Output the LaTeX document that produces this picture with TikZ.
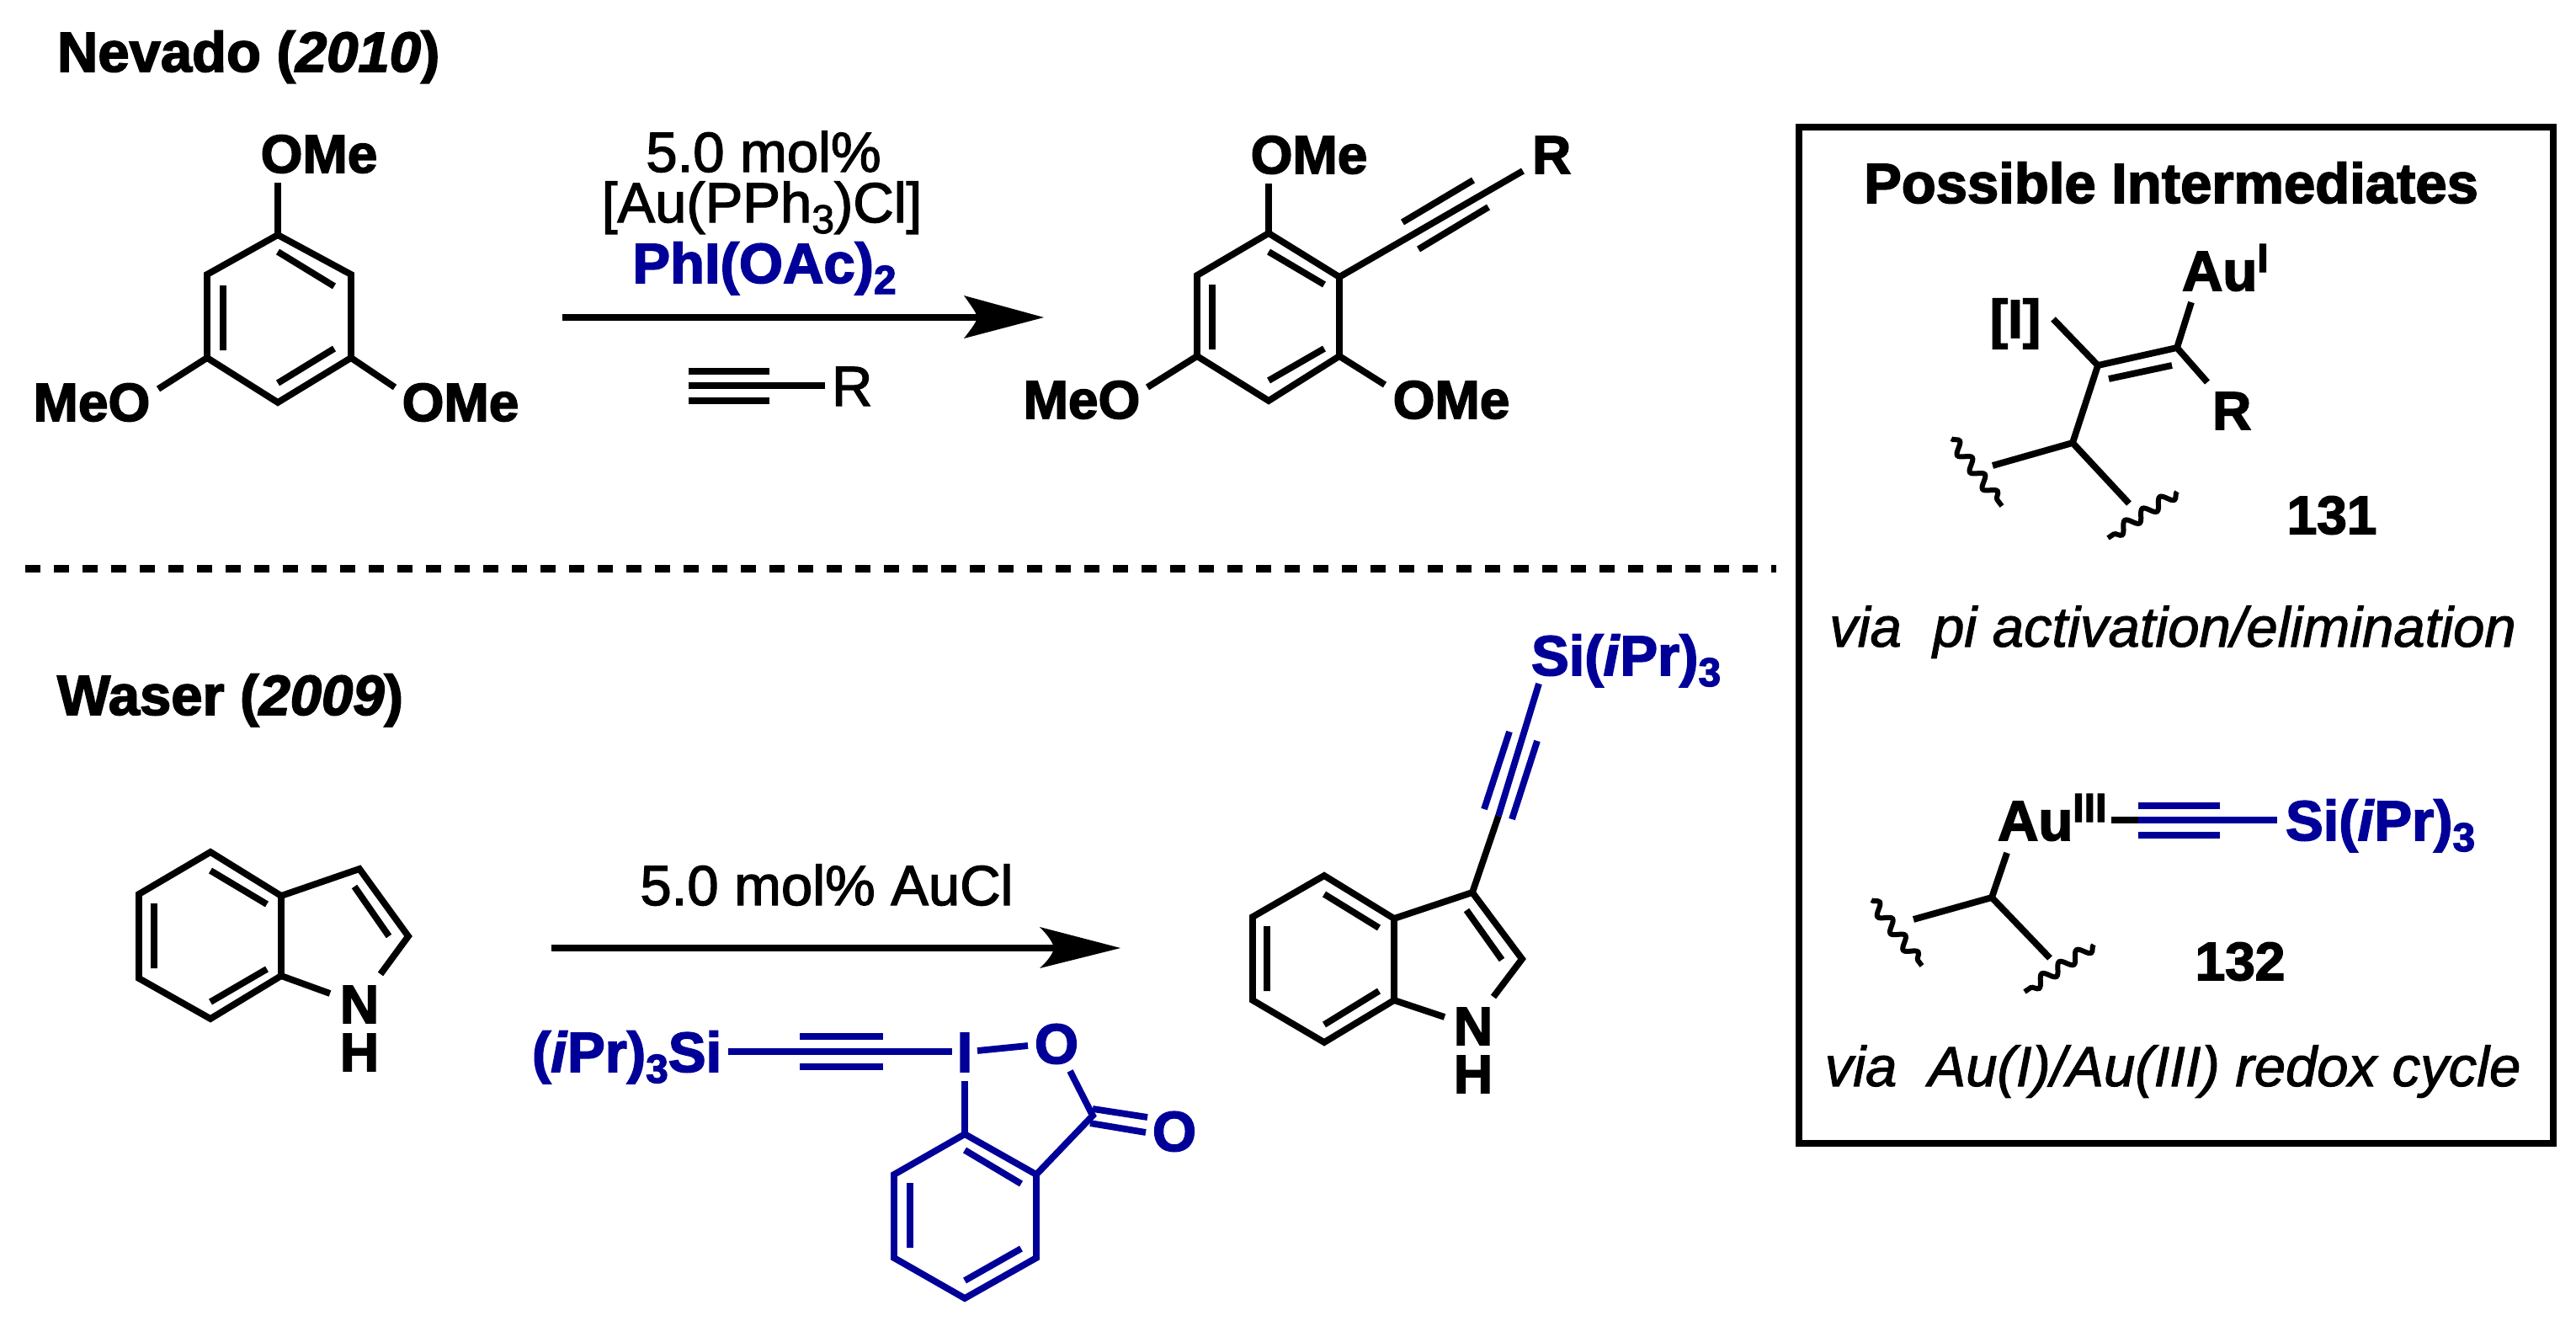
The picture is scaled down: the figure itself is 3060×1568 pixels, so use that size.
\documentclass[tikz,border=0pt]{standalone}
\usepackage{fontspec}
\setmainfont{Liberation Sans}[UprightFeatures={FakeBold=2},ItalicFeatures={FakeBold=1.5},BoldFeatures={FakeBold=2.5},BoldItalicFeatures={FakeBold=2.5}]
\usetikzlibrary{decorations.pathmorphing}
\definecolor{rblue}{HTML}{000099}
\newcommand{\sbs}[1]{\raisebox{-6.5pt}{\fontsize{24}{24}\selectfont #1}}
\newcommand{\sps}[1]{\raisebox{11pt}{\fontsize{24}{24}\selectfont #1}}
\tikzset{
  x=0.5pt,y=-0.5pt,
  bond/.style={line width=3.9pt,line join=miter,black},
  bbond/.style={line width=3.9pt,line join=miter,rblue},
  tbond/.style={line width=4pt,black},
  lbl/.style={inner sep=0pt,outer sep=0pt,anchor=base,font=\fontsize{32}{32}\selectfont\bfseries},
  bl/.style={lbl,text=rblue},
  titletxt/.style={lbl,font=\fontsize{33.5}{33.5}\selectfont\bfseries},
  reg/.style={lbl,font=\fontsize{33.5}{33.5}\selectfont},
  captxt/.style={lbl,font=\fontsize{33.5}{33.5}\selectfont\itshape},
  stacklbl/.style={lbl,align=center,font=\fontsize{32}{28.5}\selectfont\bfseries},
  wavy/.style={line width=3pt,black,decorate,decoration={snake,segment length=12.5pt,amplitude=3.2pt}},
  headfill/.style={fill=black,draw=none},
}
\begin{document}
\begin{tikzpicture}
\useasboundingbox (0,0) rectangle (3060,1568);
\fill[white] (0,0) rectangle (3060,1568);

% ---------- headings
\node[titletxt,anchor=base west] (tnev) at (68,85) {Nevado (\textit{2010})};
\node[titletxt,anchor=base west] (twas) at (68,849) {Waser (\textit{2009})};

% ---------- dashed separator
\coordinate (d1) at (30,675.5);
\coordinate (d2) at (2110,675.5);
\draw[line width=4.5pt,dash pattern=on 9pt off 8pt] (d1) -- (d2);

% ---------- trimethoxybenzene
\coordinate (a1) at (330,279);
\coordinate (a2) at (417,326);
\coordinate (a3) at (417,425);
\coordinate (a4) at (330,478);
\coordinate (a5) at (246,425);
\coordinate (a6) at (246,326);
\draw[bond] (a1)--(a2)--(a3)--(a4)--(a5)--(a6)--cycle;
\draw[bond] (330,299)--(397,340) (265,339)--(265,416) (330,455)--(397,414);
\node[lbl] (aO1) at (379,205) {OMe};
\node[lbl] (aO2) at (109,500) {MeO};
\node[lbl] (aO3) at (547,500) {OMe};
\coordinate (aO1b) at (330,217);
\coordinate (aO2b) at (188,462);
\coordinate (aO3b) at (469,460);
\draw[bond] (a1)--(aO1b) (a5)--(aO2b) (a3)--(aO3b);

% ---------- arrow 1
\coordinate (ar1s) at (668,377);
\coordinate (ar1n) at (1165,377);
\coordinate (ar1t) at (1240,377);
\draw[tbond] (ar1s)--(ar1n);
\fill[headfill] (ar1t) -- (1145,351) .. controls (1155,365) and (1160,372) .. (1161,377) .. controls (1160,382) and (1155,389) .. (1145,402) -- cycle;
\node[reg] (r1) at (907,204) {5.0 mol\%};
\node[reg] (r2) at (905,264) {[Au(PPh\sbs{3})Cl]};
\node[titletxt,text=rblue] (r3) at (908,336) {PhI(OAc)\sbs{\textbf{2}}};
\coordinate (t1a) at (818,458);
\coordinate (t1b) at (980,458);
\draw[tbond] (t1a)--(t1b) (818,441)--(914,441) (818,476)--(914,476);
\node[reg,anchor=base west] (r4) at (988,482) {R};

% ---------- product 1
\coordinate (p1) at (1507,277);
\coordinate (p2) at (1591,329);
\coordinate (p3) at (1591,423);
\coordinate (p4) at (1507,476);
\coordinate (p5) at (1422,423);
\coordinate (p6) at (1422,327);
\draw[bond] (p1)--(p2)--(p3)--(p4)--(p5)--(p6)--cycle;
\draw[bond] (1507,299)--(1573,338) (1440,338)--(1440,415) (1507,452)--(1573,414);
\node[lbl] (pO1) at (1555,206) {OMe};
\node[lbl] (pO2) at (1285,497) {MeO};
\node[lbl] (pO3) at (1724,497) {OMe};
\node[lbl,anchor=base west] (pR) at (1820,206) {R};
\coordinate (pO1b) at (1507,218);
\coordinate (pO2b) at (1363,460);
\coordinate (pO3b) at (1645,457);
\coordinate (pRb) at (1809,203);
\draw[bond] (p1)--(pO1b) (p5)--(pO2b) (p3)--(pO3b) (p2)--(pRb);
\draw[bond] (1750,214)--(1666,264) (1768,246)--(1685,296);

% ---------- box
\coordinate (b1) at (2137,151);
\coordinate (b2) at (3033,1358);
\draw[line width=4pt] (b1) rectangle (b2);
\node[titletxt] (bt) at (2579,241) {Possible Intermediates};

% ---------- intermediate 131
\coordinate (c1) at (2492,434);
\coordinate (c2) at (2586,413);
\coordinate (c3) at (2462,526);
\coordinate (cI) at (2439,379);
\coordinate (cAu) at (2603,359);
\coordinate (cR) at (2622,454);
\coordinate (cw1) at (2367,553);
\coordinate (cw2) at (2529,598);
\draw[bond] (cI)--(c1)--(c2)--(cAu) (c2)--(cR) (c1)--(c3) (c3)--(cw1) (c3)--(cw2);
\draw[bond] (2505,450)--(2580,434);
\node[titletxt,anchor=base west] (cAuL) at (2592,345) {Au\sps{I}};
\node[lbl] (cIL) at (2394,401) {[I]};
\node[lbl,anchor=base west] (cRL) at (2628,510) {R};
\node[lbl] (n131) at (2770,634) {131};
\coordinate (w1a) at (2318,521);
\coordinate (w1b) at (2378,601);
\coordinate (w2a) at (2586,584);
\coordinate (w2b) at (2504,639);
\draw[wavy] (w1a)--(w1b);
\draw[wavy] (w2a)--(w2b);
\node[captxt] (cap1) at (2581,768) {via\ \ pi activation/elimination};

% ---------- intermediate 132
\coordinate (e0) at (2366,1066);
\coordinate (eAu) at (2384,1013);
\coordinate (ew1) at (2273,1092);
\coordinate (ew2) at (2435,1138);
\draw[bond] (eAu)--(e0) (e0)--(ew1) (e0)--(ew2);
\node[titletxt,anchor=base west] (eAuL) at (2373,998) {Au\sps{III}};
\coordinate (et0) at (2508,974);
\coordinate (et1) at (2540,974);
\coordinate (et2) at (2705,974);
\draw[tbond] (et0)--(et1);
\draw[tbond,rblue] (et1)--(et2) (2540,957)--(2637,957) (2540,992)--(2637,992);
\node[titletxt,text=rblue,anchor=base west] (eSi) at (2715,998) {Si(\textit{i}Pr)\sbs{\textbf{3}}};
\node[lbl] (n132) at (2661,1164) {132};
\coordinate (w3a) at (2223,1069);
\coordinate (w3b) at (2283,1147);
\coordinate (w4a) at (2487,1122);
\coordinate (w4b) at (2405,1178);
\draw[wavy] (w3a)--(w3b);
\draw[wavy] (w4a)--(w4b);
\node[captxt] (cap2) at (2581,1290) {via\ \ Au(I)/Au(III) redox cycle};

% ---------- indole
\coordinate (i1) at (250,1012);
\coordinate (i2) at (334,1064);
\coordinate (i3) at (334,1159);
\coordinate (i4) at (250,1210);
\coordinate (i5) at (165,1162);
\coordinate (i6) at (165,1062);
\coordinate (i7) at (427,1032);
\coordinate (i8) at (485,1112);
\coordinate (i9) at (452,1157);
\coordinate (i10) at (392,1180);
\draw[bond] (i1)--(i2)--(i3)--(i4)--(i5)--(i6)--cycle;
\draw[bond] (i2)--(i7)--(i8)--(i9) (i3)--(i10);
\draw[bond] (250,1034)--(317,1074) (183,1073)--(183,1150) (250,1190)--(317,1151) (421,1053)--(462,1112);
\node[stacklbl] (iNH) at (427,1272) {N\\H};

% ---------- arrow 2
\coordinate (ar2s) at (655,1126);
\coordinate (ar2n) at (1255,1126);
\coordinate (ar2t) at (1331,1126);
\draw[tbond] (ar2s)--(ar2n);
\fill[headfill] (ar2t) -- (1235,1101) .. controls (1245,1111) and (1251,1120) .. (1252,1126) .. controls (1251,1132) and (1245,1141) .. (1235,1150) -- cycle;
\node[reg] (r5) at (982,1075) {5.0 mol\% AuCl};

% ---------- benziodoxolone reagent
\node[titletxt,text=rblue,anchor=base west] (zSi) at (632,1273) {(\textit{i}Pr)\sbs{\textbf{3}}Si};
\node[titletxt,text=rblue] (zI) at (1146,1273) {I};
\node[titletxt,text=rblue] (zO) at (1255,1263) {O};
\node[titletxt,text=rblue] (zO2) at (1395,1367) {O};
\coordinate (zt1) at (865,1249);
\coordinate (zt2) at (1131,1249);
\draw[tbond,rblue] (zt1)--(zt2) (950,1231)--(1049,1231) (950,1267)--(1049,1267);
\coordinate (z1) at (1146,1347);
\coordinate (z2) at (1231,1395);
\coordinate (z3) at (1231,1494);
\coordinate (z4) at (1146,1542);
\coordinate (z5) at (1062,1494);
\coordinate (z6) at (1062,1395);
\coordinate (zC) at (1298,1325);
\coordinate (zIb) at (1146,1284);
\coordinate (zIO1) at (1161,1248);
\coordinate (zIO2) at (1221,1242);
\coordinate (zOC) at (1271,1272);
\draw[bbond] (z1)--(z2)--(z3)--(z4)--(z5)--(z6)--cycle;
\draw[bbond] (1146,1366)--(1213,1406) (1081,1405)--(1081,1482) (1146,1521)--(1213,1483);
\draw[bbond] (zIb)--(z1) (zIO1)--(zIO2) (zOC)--(zC)--(z2);
\draw[bbond] (1298,1317)--(1363,1327) (1295,1334)--(1361,1345);

% ---------- product 2
\coordinate (q1) at (1573,1040);
\coordinate (q2) at (1656,1091);
\coordinate (q3) at (1656,1188);
\coordinate (q4) at (1573,1238);
\coordinate (q5) at (1488,1188);
\coordinate (q6) at (1488,1089);
\coordinate (q7) at (1749,1060);
\coordinate (q8) at (1808,1139);
\coordinate (q9) at (1774,1184);
\coordinate (q10) at (1716,1208);
\coordinate (qa) at (1780,969);
\coordinate (qb) at (1828,812);
\draw[bond] (q1)--(q2)--(q3)--(q4)--(q5)--(q6)--cycle;
\draw[bond] (q2)--(q7)--(q8)--(q9) (q3)--(q10);
\draw[bond] (1573,1062)--(1638,1102) (1505,1100)--(1505,1177) (1573,1217)--(1638,1177) (1742,1081)--(1784,1140);
\draw[bond] (q7)--(qa);
\draw[bbond] (qa)--(qb) (1793,869)--(1763,961) (1826,880)--(1796,973);
\node[stacklbl] (qNH) at (1750,1298) {N\\H};
\node[titletxt,text=rblue,anchor=base west] (qSi) at (1819,802) {Si(\textit{i}Pr)\sbs{\textbf{3}}};
\end{tikzpicture}
\end{document}
